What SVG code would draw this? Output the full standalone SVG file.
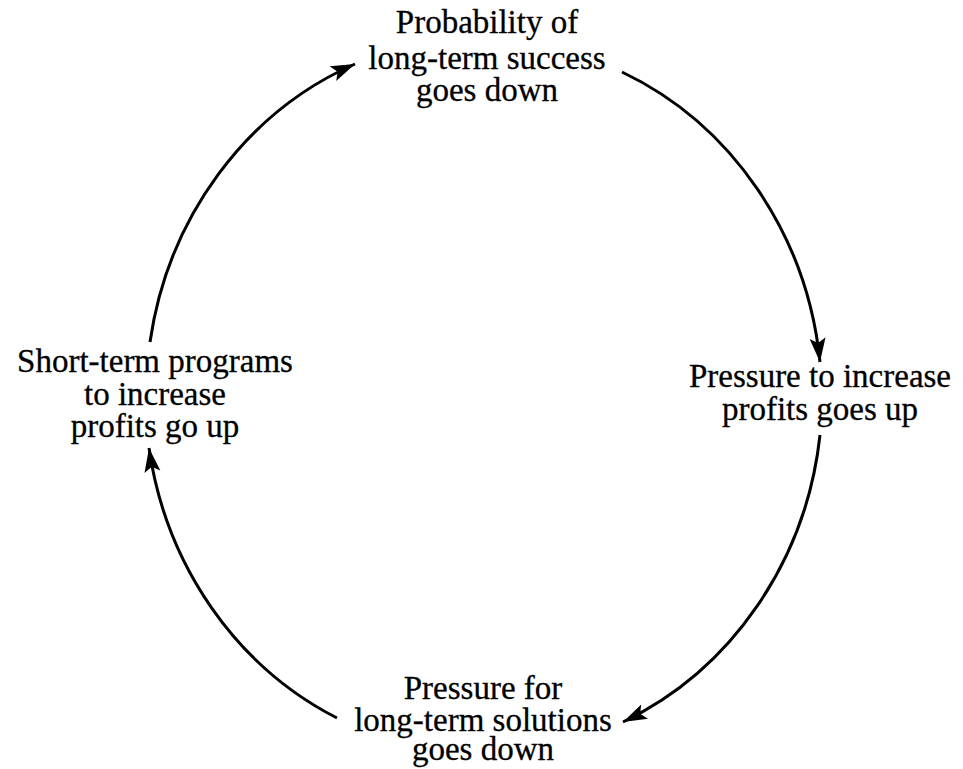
<svg xmlns="http://www.w3.org/2000/svg" width="963" height="769" viewBox="0 0 963 769">
  <style>
    .lbl { font-family: "Liberation Serif", "Times New Roman", serif; font-size: 33px; fill: #000; stroke: #000; stroke-width: 0.3; text-anchor: middle; }
    .arc { fill: none; stroke: #000; stroke-width: 3; }
  </style>
  <defs>
    <marker id="head" markerUnits="userSpaceOnUse" markerWidth="26" markerHeight="18" refX="24" refY="8" orient="auto">
      <path d="M0,0 L24,8 L0,16 L5,8 Z" fill="#000"/>
    </marker>
  </defs>
  <rect width="963" height="769" fill="#fff"/>

  <!-- causal loop, clockwise -->
  <g id="connectors">
    <path class="arc" d="M150,342 A338,360 0 0 1 355,64" marker-end="url(#head)"/>
    <path class="arc" d="M622,72 A338,360 0 0 1 820,362" marker-end="url(#head)"/>
    <path class="arc" d="M820,435 A338,360 0 0 1 623,722" marker-end="url(#head)"/>
    <path class="arc" d="M337,718 A338,360 0 0 1 149,448" marker-end="url(#head)"/>
  </g>

  <g id="node-top">
    <text class="lbl" x="487" y="33">Probability of</text>
    <text class="lbl" x="487" y="69">long-term success</text>
    <text class="lbl" x="487" y="101">goes down</text>
  </g>
  <g id="node-right">
    <text class="lbl" x="820" y="387">Pressure to increase</text>
    <text class="lbl" x="820" y="420">profits goes up</text>
  </g>
  <g id="node-bottom">
    <text class="lbl" x="483" y="699">Pressure for</text>
    <text class="lbl" x="483" y="731">long-term solutions</text>
    <text class="lbl" x="483" y="760">goes down</text>
  </g>
  <g id="node-left">
    <text class="lbl" x="155" y="372">Short-term programs</text>
    <text class="lbl" x="155" y="405">to increase</text>
    <text class="lbl" x="155" y="437">profits go up</text>
  </g>
</svg>
